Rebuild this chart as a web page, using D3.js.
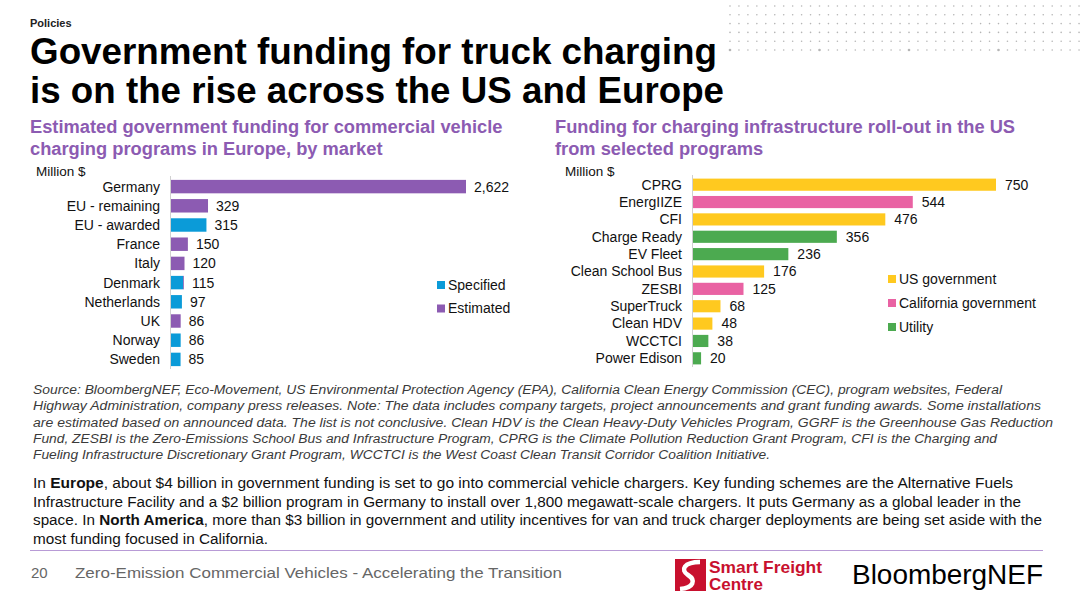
<!DOCTYPE html>
<html>
<head>
<meta charset="utf-8">
<script src="https://cdn.jsdelivr.net/npm/d3@7"></script>
<style>
  body { margin: 0; background: #fff; }
  svg { display: block; font-family: "Liberation Sans", Arial, sans-serif; }
</style>
</head>
<body>
<div id="chart"></div>
<script>
// Europe chart data (Million $)
var euMarkets = ["Germany", "EU - remaining", "EU - awarded", "France", "Italy", "Denmark", "Netherlands", "UK", "Norway", "Sweden"];
var euSpecified = [0, 0, 315, 0, 0, 108, 97, 0, 86, 85];
var euEstimated = [2622, 329, 0, 150, 120, 7, 0, 86, 0, 0];
var euKeys = ["Specified", "Estimated"];

// US chart data (Million $)
var usPrograms = ["CPRG", "EnergIIZE", "CFI", "Charge Ready", "EV Fleet", "Clean School Bus", "ZESBI", "SuperTruck", "Clean HDV", "WCCTCI", "Power Edison"];
var usValues = [750, 544, 476, 356, 236, 176, 125, 68, 48, 38, 20];
var usFunders = ["US government", "California government", "US government", "Utility", "Utility", "US government", "California government", "US government", "US government", "Utility", "Utility"];
var usKeys = ["US government", "California government", "Utility"];

var sourceLines = [
  "Source: BloombergNEF, Eco-Movement, US Environmental Protection Agency (EPA), California Clean Energy Commission (CEC), program websites, Federal",
  "Highway Administration, company press releases. Note: The data includes company targets, project announcements and grant funding awards. Some installations",
  "are estimated based on announced data. The list is not conclusive. Clean HDV is the Clean Heavy-Duty Vehicles Program, GGRF is the Greenhouse Gas Reduction",
  "Fund, ZESBI is the Zero-Emissions School Bus and Infrastructure Program, CPRG is the Climate Pollution Reduction Grant Program, CFI is the Charging and",
  "Fueling Infrastructure Discretionary Grant Program, WCCTCI is the West Coast Clean Transit Corridor Coalition Initiative."
];
var sourceEnds = [1002, 1041, 1053, 997, 770];

var width = 1080, height = 603;
var purple = "#8c5bb2";
var euColor = d3.scaleOrdinal().domain(euKeys).range(["#0b9bd8", "#8c5bb2"]);
var usColor = d3.scaleOrdinal().domain(usKeys).range(["#ffc91f", "#e962a3", "#4caa50"]);

var svg = d3.select("#chart").append("svg")
  .attr("width", width)
  .attr("height", height);

// dotted pattern top right
var dotCols = d3.range(730, 1080, 8.95);
var dotRows = d3.range(6, 52, 8.8);
var dots = svg.append("g");
dotRows.forEach(function(y, ri) {
  dotCols.forEach(function(x, ci) {
    dots.append("circle")
      .attr("cx", x).attr("cy", y)
      .attr("r", (ri == dotRows.length - 1 && ci % 10 == 0) ? 1.3 : 0.8)
      .attr("fill", "#b5b5b5");
  });
});

// headers
svg.append("text").attr("x", 30).attr("y", 27)
  .attr("font-size", 11).attr("font-weight", "bold").attr("fill", "#222")
  .text("Policies");

var titleEnds = [717, 724];
svg.selectAll(".title").data(["Government funding for truck charging", "is on the rise across the US and Europe"])
  .enter().append("text")
  .attr("class", "title")
  .attr("x", 30)
  .attr("y", function(d, i) { return 64 + i * 39; })
  .attr("font-size", 36.5).attr("font-weight", "bold").attr("fill", "#000")
  .attr("textLength", function(d, i) { return titleEnds[i] - 30; })
  .attr("lengthAdjust", "spacingAndGlyphs")
  .text(function(d) { return d; });

function subtitle(x, lines) {
  svg.append("g").selectAll("text").data(lines).enter().append("text")
    .attr("x", x)
    .attr("y", function(d, i) { return 133 + i * 22; })
    .attr("font-size", 18.3).attr("font-weight", "bold").attr("fill", purple)
    .text(function(d) { return d; });
}
subtitle(30, ["Estimated government funding for commercial vehicle", "charging programs in Europe, by market"]);
subtitle(555, ["Funding for charging infrastructure roll-out in the US", "from selected programs"]);

svg.append("text").attr("x", 36).attr("y", 176).attr("font-size", 13.5).attr("fill", "#111").text("Million $");
svg.append("text").attr("x", 565).attr("y", 176).attr("font-size", 13.5).attr("fill", "#111").text("Million $");

// ---------- Europe chart ----------
var euRows = euMarkets.map(function(m, i) {
  return {market: m, Specified: euSpecified[i], Estimated: euEstimated[i]};
});
var euStack = d3.stack().keys(euKeys)(euRows);

var xEu = d3.scaleLinear().domain([0, d3.max(euRows, function(d) { return d.Specified + d.Estimated; })]).range([171, 466]);
var yEu = d3.scaleBand().domain(euMarkets).range([177, 369]).paddingInner(0.3).paddingOuter(0.15);

var eu = svg.append("g");
eu.selectAll("g.layer").data(euStack).enter().append("g")
  .attr("fill", function(d) { return euColor(d.key); })
  .selectAll("rect").data(function(d) { return d; }).enter().append("rect")
  .attr("x", function(d) { return xEu(d[0]); })
  .attr("y", function(d) { return yEu(d.data.market); })
  .attr("width", function(d) { return xEu(d[1]) - xEu(d[0]); })
  .attr("height", yEu.bandwidth());

eu.append("line")
  .attr("x1", 170.5).attr("x2", 170.5)
  .attr("y1", 176).attr("y2", 369)
  .attr("stroke", "#d0d0d0");

eu.selectAll(".cat").data(euMarkets).enter().append("text")
  .attr("x", 160)
  .attr("y", function(d) { return yEu(d) + yEu.bandwidth() / 2; })
  .attr("dy", "0.35em").attr("text-anchor", "end")
  .attr("font-size", 14).attr("fill", "#111")
  .text(function(d) { return d; });

eu.selectAll(".val").data(euRows).enter().append("text")
  .attr("x", function(d) { return xEu(d.Specified + d.Estimated) + 8; })
  .attr("y", function(d) { return yEu(d.market) + yEu.bandwidth() / 2; })
  .attr("dy", "0.35em")
  .attr("font-size", 14).attr("fill", "#111")
  .text(function(d) { return d3.format(",")(d.Specified + d.Estimated); });

var euLeg = eu.selectAll(".leg").data(euKeys).enter().append("g")
  .attr("transform", function(d, i) { return "translate(437," + (285 + i * 23.5) + ")"; });
euLeg.append("rect").attr("x", 0).attr("y", -4).attr("width", 8).attr("height", 8)
  .attr("fill", function(d) { return euColor(d); });
euLeg.append("text").attr("x", 11).attr("dy", "0.35em")
  .attr("font-size", 14).attr("fill", "#111").text(function(d) { return d; });

// ---------- US chart ----------
var xUs = d3.scaleLinear().domain([0, d3.max(usValues)]).range([693, 996]);
var yUs = d3.scaleBand().domain(usPrograms).range([176, 367]).paddingInner(0.3).paddingOuter(0.15);

var us = svg.append("g");
us.selectAll("rect").data(usPrograms).enter().append("rect")
  .attr("x", xUs(0))
  .attr("y", function(d) { return yUs(d); })
  .attr("width", function(d, i) { return xUs(usValues[i]) - xUs(0); })
  .attr("height", yUs.bandwidth())
  .attr("fill", function(d, i) { return usColor(usFunders[i]); });

us.append("line")
  .attr("x1", 692.5).attr("x2", 692.5)
  .attr("y1", 175).attr("y2", 367)
  .attr("stroke", "#d0d0d0");

us.selectAll(".cat").data(usPrograms).enter().append("text")
  .attr("x", 682)
  .attr("y", function(d) { return yUs(d) + yUs.bandwidth() / 2; })
  .attr("dy", "0.35em").attr("text-anchor", "end")
  .attr("font-size", 14).attr("fill", "#111")
  .text(function(d) { return d; });

us.selectAll(".val").data(usPrograms).enter().append("text")
  .attr("x", function(d, i) { return xUs(usValues[i]) + 9; })
  .attr("y", function(d) { return yUs(d) + yUs.bandwidth() / 2; })
  .attr("dy", "0.35em")
  .attr("font-size", 14).attr("fill", "#111")
  .text(function(d, i) { return usValues[i]; });

var usLeg = us.selectAll(".leg").data(usKeys).enter().append("g")
  .attr("transform", function(d, i) { return "translate(888," + (279 + i * 24) + ")"; });
usLeg.append("rect").attr("x", 0).attr("y", -4).attr("width", 8).attr("height", 8)
  .attr("fill", function(d) { return usColor(d); });
usLeg.append("text").attr("x", 11).attr("dy", "0.35em")
  .attr("font-size", 14).attr("fill", "#111").text(function(d) { return d; });

// ---------- source note ----------
svg.append("g").selectAll("text").data(sourceLines).enter().append("text")
  .attr("x", 33)
  .attr("y", function(d, i) { return 394 + i * 16.3; })
  .attr("font-size", 12).attr("font-style", "italic").attr("fill", "#3a3a3a")
  .attr("textLength", function(d, i) { return sourceEnds[i] - 33; })
  .attr("lengthAdjust", "spacingAndGlyphs")
  .text(function(d) { return d; });

// ---------- body paragraph ----------
var body = [
  [["In ", false], ["Europe", true], [", about $4 billion in government funding is set to go into commercial vehicle chargers. Key funding schemes are the Alternative Fuels", false]],
  [["Infrastructure Facility and a $2 billion program in Germany to install over 1,800 megawatt-scale chargers. It puts Germany as a global leader in the", false]],
  [["space. In ", false], ["North America", true], [", more than $3 billion in government and utility incentives for van and truck charger deployments are being set aside with the", false]],
  [["most funding focused in California.", false]]
];
var bodyEnds = [1013, 1021, 1042, 268];
body.forEach(function(line, i) {
  var t = svg.append("text")
    .attr("x", 33)
    .attr("y", 488 + i * 18.5)
    .attr("font-size", 14).attr("fill", "#111")
    .attr("textLength", bodyEnds[i] - 33)
    .attr("lengthAdjust", "spacingAndGlyphs");
  line.forEach(function(seg) {
    t.append("tspan").attr("font-weight", seg[1] ? "bold" : "normal").text(seg[0]);
  });
});

// ---------- footer ----------
svg.append("line").attr("x1", 30).attr("x2", 1043).attr("y1", 550.5).attr("y2", 550.5)
  .attr("stroke", "#b89bd6").attr("stroke-width", 1.2);

svg.append("text").attr("x", 31).attr("y", 578).attr("font-size", 15).attr("fill", "#666").text("20");
svg.append("text").attr("x", 75).attr("y", 578).attr("font-size", 15).attr("fill", "#666")
  .attr("textLength", 487).attr("lengthAdjust", "spacingAndGlyphs")
  .text("Zero-Emission Commercial Vehicles - Accelerating the Transition");

// Smart Freight Centre mark
var sfc = svg.append("g");
sfc.append("path")
  .attr("d", "M675,559 L706,559 L706,591 L675,591 Z")
  .attr("fill", "#c8102e");
sfc.append("path")
  .attr("d", "M700,562 C684,562 680,570 688,575 C696,580 694,588 680,589")
  .attr("fill", "none").attr("stroke", "#fff").attr("stroke-width", 4.5);
sfc.append("text").attr("x", 709).attr("y", 573).attr("font-size", 17).attr("font-weight", "bold")
  .attr("fill", "#c8102e").attr("textLength", 113).attr("lengthAdjust", "spacingAndGlyphs")
  .text("Smart Freight");
sfc.append("text").attr("x", 709).attr("y", 590).attr("font-size", 17).attr("font-weight", "bold")
  .attr("fill", "#c8102e").text("Centre");

svg.append("text").attr("x", 852).attr("y", 584).attr("font-size", 27).attr("font-weight", "500")
  .attr("fill", "#000").attr("textLength", 191).attr("lengthAdjust", "spacingAndGlyphs")
  .text("BloombergNEF");
</script>
</body>
</html>
